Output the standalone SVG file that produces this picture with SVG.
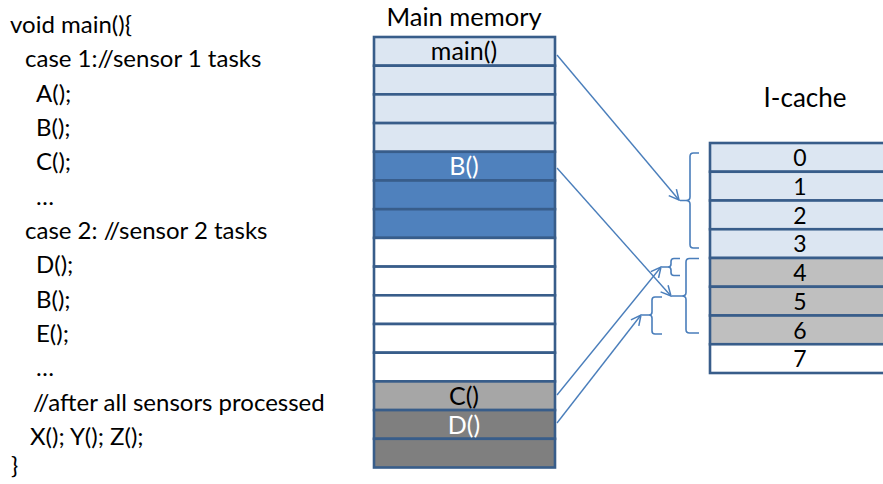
<svg xmlns="http://www.w3.org/2000/svg" width="883" height="484" viewBox="0 0 883 484">
  <defs>
    <style>
      .code { font-family: Lato, "Open Sans", sans-serif; font-size: 24px; fill: #000; }
      .title { font-family: Lato, "Open Sans", sans-serif; font-size: 26px; fill: #000; text-anchor: middle; }
      .lbl { font-family: Lato, "Open Sans", sans-serif; font-size: 25px; text-anchor: middle; }
      .num { font-family: Lato, "Open Sans", sans-serif; font-size: 23px; text-anchor: middle; fill: #000; }
      .dark { fill: #000; }
      .light { fill: #fff; }
      .cell { stroke: #385d8a; stroke-width: 2.6; }
      .pale { fill: #dce6f2; }
      .blue { fill: #4f81bd; }
      .white { fill: #ffffff; }
      .gray1 { fill: #a6a6a6; }
      .gray2 { fill: #7f7f7f; }
      .gray3 { fill: #bfbfbf; }
      .link { stroke: #4a7ebb; stroke-width: 1.4; fill: none; }
      .brace { stroke: #4a7ebb; stroke-width: 1.6; fill: none; }
    </style>
    <marker id="open" viewBox="0 0 12 12" refX="11" refY="6" markerWidth="12" markerHeight="12" markerUnits="userSpaceOnUse" orient="auto">
      <path d="M1,1 L11,6 L1,11" fill="none" stroke="#4a7ebb" stroke-width="1.5"/>
    </marker>
  </defs>

  <!-- source listing -->
  <g id="code">
    <text class="code" x="10" y="33">void main(){</text>
    <text class="code" x="25" y="67">case 1://sensor 1 tasks</text>
    <text class="code" x="36" y="102">A();</text>
    <text class="code" x="36" y="136">B();</text>
    <text class="code" x="36" y="170">C();</text>
    <text class="code" x="36" y="205">…</text>
    <text class="code" x="25" y="239">case 2: //sensor 2 tasks</text>
    <text class="code" x="36" y="273">D();</text>
    <text class="code" x="36" y="308">B();</text>
    <text class="code" x="36" y="342">E();</text>
    <text class="code" x="36" y="376">…</text>
    <text class="code" x="33" y="411">//after all sensors processed</text>
    <text class="code" x="30" y="445">X(); Y(); Z();</text>
    <text class="code" x="11" y="474">}</text>
  </g>

  <!-- main memory column -->
  <g id="main-memory">
    <text class="title" x="464" y="26" style="font-size:25.5px">Main memory</text>
    <rect class="cell pale"  x="374" y="37"    width="181" height="28.7"/>
    <rect class="cell pale"  x="374" y="65.7"  width="181" height="28.7"/>
    <rect class="cell pale"  x="374" y="94.4"  width="181" height="28.7"/>
    <rect class="cell pale"  x="374" y="123.1" width="181" height="28.7"/>
    <rect class="cell blue"  x="374" y="151.8" width="181" height="28.7"/>
    <rect class="cell blue"  x="374" y="180.5" width="181" height="28.7"/>
    <rect class="cell blue"  x="374" y="209.2" width="181" height="28.7"/>
    <rect class="cell white" x="374" y="237.9" width="181" height="28.7"/>
    <rect class="cell white" x="374" y="266.6" width="181" height="28.7"/>
    <rect class="cell white" x="374" y="295.3" width="181" height="28.7"/>
    <rect class="cell white" x="374" y="324"   width="181" height="28.7"/>
    <rect class="cell white" x="374" y="352.7" width="181" height="28.7"/>
    <rect class="cell gray1" x="374" y="381.4" width="181" height="28.7"/>
    <rect class="cell gray2" x="374" y="410.1" width="181" height="28.7"/>
    <rect class="cell gray2" x="374" y="438.8" width="181" height="28.7"/>
    <text class="lbl dark"  x="464" y="60">main()</text>
    <text class="lbl light" x="464" y="175">B()</text>
    <text class="lbl dark"  x="464" y="405">C()</text>
    <text class="lbl light" x="464" y="434">D()</text>
  </g>

  <!-- instruction cache -->
  <g id="i-cache">
    <text class="title" x="805" y="107">I-cache</text>
    <rect class="cell pale"  x="710" y="143"   width="190" height="28.75"/>
    <rect class="cell pale"  x="710" y="171.75" width="190" height="28.75"/>
    <rect class="cell pale"  x="710" y="200.5" width="190" height="28.75"/>
    <rect class="cell pale"  x="710" y="229.25" width="190" height="28.75"/>
    <rect class="cell gray3" x="710" y="258"   width="190" height="28.75"/>
    <rect class="cell gray3" x="710" y="286.75" width="190" height="28.75"/>
    <rect class="cell gray3" x="710" y="315.5" width="190" height="28.75"/>
    <rect class="cell white" x="710" y="344.25" width="190" height="28.75"/>
    <text class="num" x="800" y="166">0</text>
    <text class="num" x="800" y="195">1</text>
    <text class="num" x="800" y="224">2</text>
    <text class="num" x="800" y="252">3</text>
    <text class="num" x="800" y="281">4</text>
    <text class="num" x="800" y="310">5</text>
    <text class="num" x="800" y="339">6</text>
    <text class="num" x="800" y="367">7</text>
  </g>

  <!-- braces grouping cache lines -->
  <g id="braces">
    <path class="brace" d="M699,153 H693.5 Q690,153 690,156.5 V197 Q690,200.5 686,200.5 H680 M686,200.5 Q690,200.5 690,204 V244.5 Q690,248 693.5,248 H699"/>
    <path class="brace" d="M699,258.5 H689.5 Q686,258.5 686,262 V292.5 Q686,296 682,296 H672 M682,296 Q686,296 686,299.5 V329.5 Q686,333 689.5,333 H699"/>
    <path class="brace" d="M680,258.5 H674 Q671,258.5 671,261.5 V264 Q671,267 668,267 H662 M668,267 Q671,267 671,270 V272.5 Q671,275.5 674,275.5 H680"/>
    <path class="brace" d="M662,297 H655 Q652,297 652,300 V312 Q652,315 649,315 H642 M649,315 Q652,315 652,318 V331 Q652,334 655,334 H662"/>
  </g>

  <!-- mapping arrows -->
  <g id="connectors">
    <line class="link" x1="557" y1="55"  x2="679" y2="200" marker-end="url(#open)"/>
    <line class="link" x1="557" y1="168" x2="671" y2="296" marker-end="url(#open)"/>
    <line class="link" x1="557" y1="395" x2="661" y2="267" marker-end="url(#open)"/>
    <line class="link" x1="557" y1="423" x2="641" y2="315" marker-end="url(#open)"/>
  </g>
</svg>
